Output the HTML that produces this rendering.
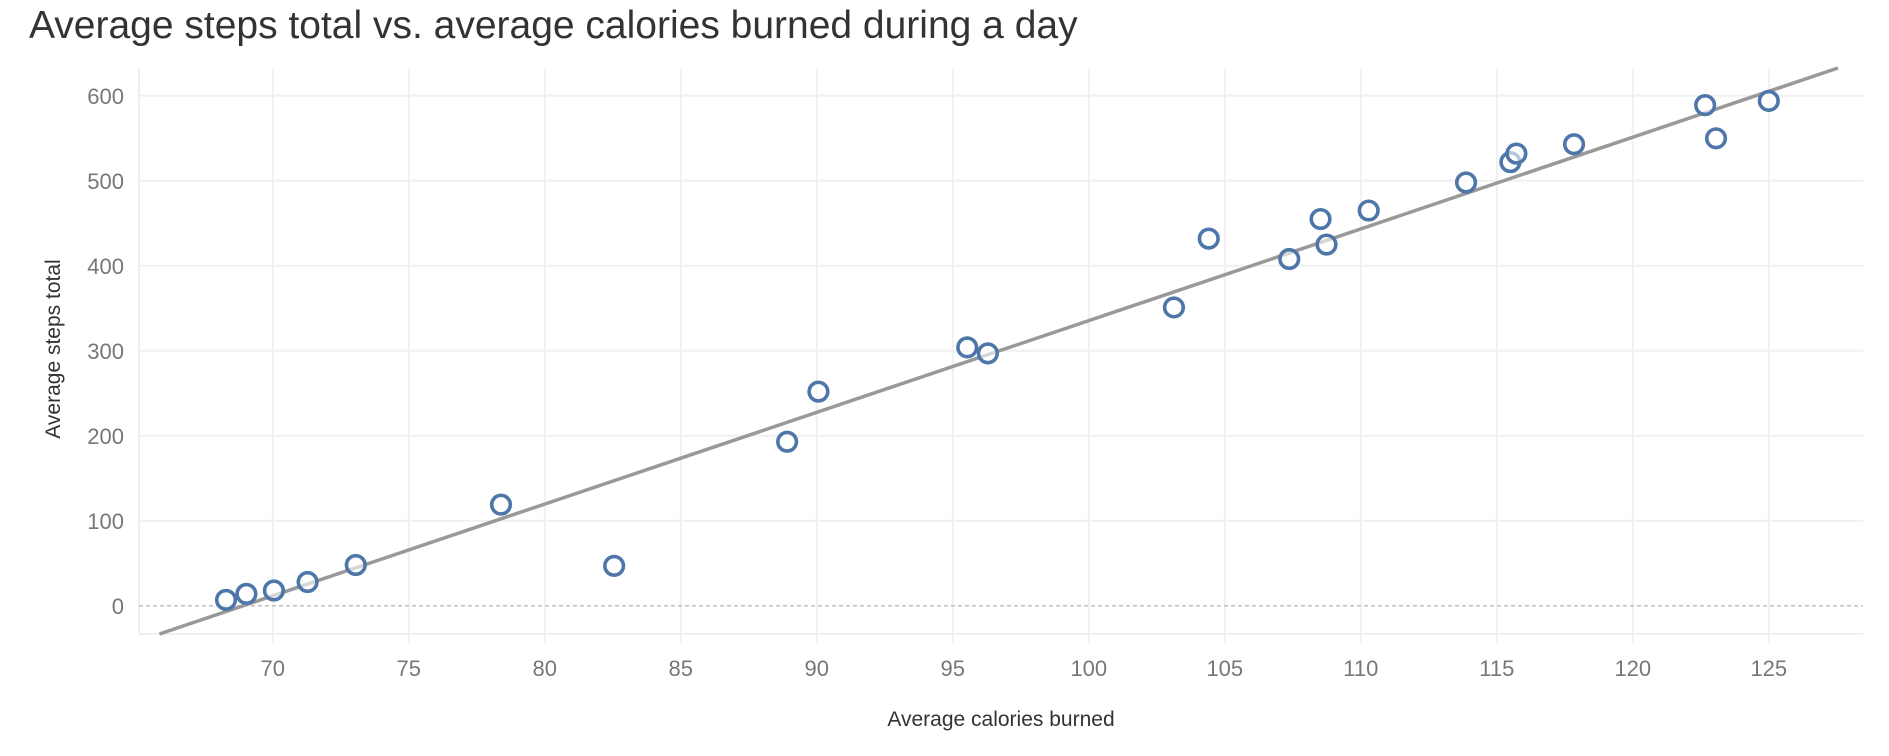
<!DOCTYPE html>
<html><head><meta charset="utf-8"><style>
html,body{margin:0;padding:0;background:#fff;}
body{width:1889px;height:751px;overflow:hidden;font-family:"Liberation Sans",sans-serif;}
</style></head><body>
<svg id="chart" width="1889" height="751" xmlns="http://www.w3.org/2000/svg">
<text x="29" y="38" font-size="39" fill="#333" font-family="Liberation Sans, sans-serif">Average steps total vs. average calories burned during a day</text>
<g id="grid"></g>
<g id="axes"></g>
<g id="marks"></g>
<text transform="translate(60,349) rotate(-90)" text-anchor="middle" font-size="21" fill="#333">Average steps total</text>
<text x="1001" y="726" text-anchor="middle" font-size="21" fill="#333">Average calories burned</text>
</svg>
<script>
const calories = [68.28,69.03,70.04,71.28,73.05,78.39,82.55,88.91,90.06,95.53,96.29,103.13,104.41,107.37,108.52,108.74,110.29,113.87,115.50,115.72,117.84,122.66,123.06,125.0];
const steps = [7,14,18,28,48,119,47,193,252,304,297,351,432,408,455,425,465,498,522,532,543,589,550,594];
const xTicks = [70,75,80,85,90,95,100,105,110,115,120,125];
const yTicks = [0,100,200,300,400,500,600];
const trendSlope = 10.79;
const trendIntercept = -743.5;

const L=139, R=1863, T=68, B=634;
function xs(v){return 272.8+(v-70)*27.2;}
function ys(v){return 605.8-v*0.85;}
const NS="http://www.w3.org/2000/svg";
function mk(tag,attrs,parent){const e=document.createElementNS(NS,tag);for(const k in attrs)e.setAttribute(k,attrs[k]);parent.appendChild(e);return e;}
const grid=document.getElementById('grid'), axes=document.getElementById('axes'), marks=document.getElementById('marks');
mk('line',{x1:L,x2:L,y1:T,y2:B,stroke:'#f0f0f0','stroke-width':2},grid);
mk('line',{x1:L,x2:R,y1:B,y2:B,stroke:'#f0f0f0','stroke-width':2},grid);
xTicks.forEach(t=>{
  const g=mk('line',{x1:xs(t),x2:xs(t),y1:T,y2:B+10,stroke:'#f0f0f0','stroke-width':2},grid);
  
  
  const tx=mk('text',{x:xs(t),y:676,'text-anchor':'middle','font-size':22,fill:'#777'},axes);
  tx.textContent=t;
  
  
});
yTicks.forEach(t=>{
  if(t===0){
    const z=mk('line',{x1:L,x2:R,y1:ys(t),y2:ys(t),stroke:'#bbb','stroke-width':1.3,'stroke-dasharray':'4,3'},grid);
    
    
  } else {
    const g=mk('line',{x1:L,x2:R,y1:ys(t),y2:ys(t),stroke:'#f0f0f0','stroke-width':2},grid);
    
    
  }
  const tx=mk('text',{x:124,y:ys(t)+8,'text-anchor':'end','font-size':22,fill:'#777'},axes);
  tx.textContent=t;
  
  
});
// trend line clipped to plot area
const yBot=(B-605.8)/-0.85, yTop=(605.8-T)/0.85;
let xa=(yBot-trendIntercept)/trendSlope, xb=(yTop-trendIntercept)/trendSlope;
const tl=mk('line',{x1:xs(xa),y1:ys(trendSlope*xa+trendIntercept),x2:xs(xb),y2:ys(trendSlope*xb+trendIntercept),stroke:'#999','stroke-width':3.5},marks);


calories.forEach((c,i)=>{
  const p=mk('circle',{cx:xs(c),cy:ys(steps[i]),r:9.3,fill:'#fff','fill-opacity':0.6,stroke:'#4e76a8','stroke-width':3.6},marks);
  
  
});
</script>
</body></html>
